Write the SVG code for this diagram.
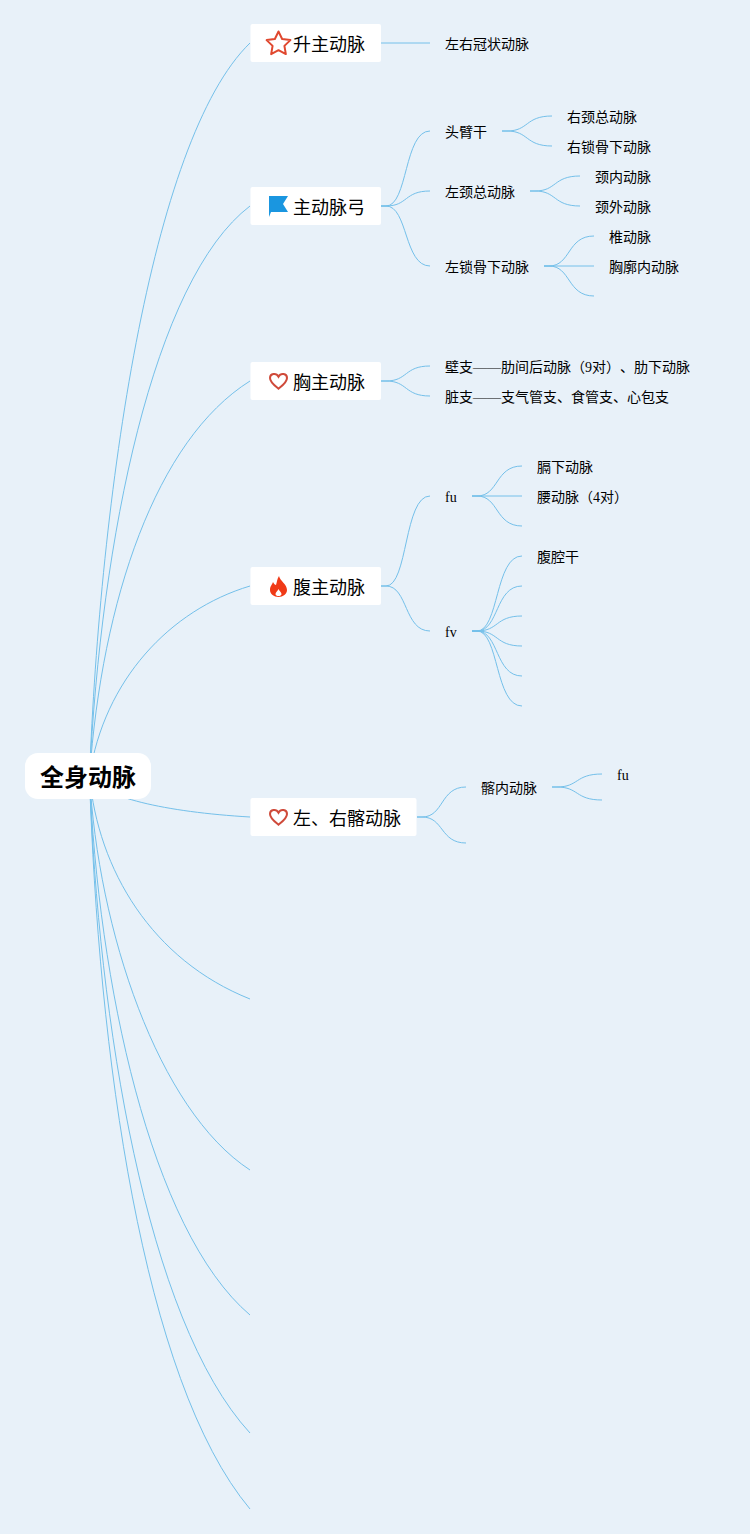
<svg xmlns="http://www.w3.org/2000/svg" width="750" height="1534" viewBox="0 0 750 1534">
<style>
.bg{fill:#e8f1f9}
.c{fill:none;stroke:#74c0ea;stroke-width:1}
.box{fill:#fff}
text{font-family:"Liberation Serif","Noto Sans CJK SC",serif;fill:#000;opacity:.999}
.t0{font-size:24px;font-weight:700;font-family:"Noto Sans CJK SC",sans-serif}
.t1{font-size:18px}
.t2{font-size:14px}
.dash{font-family:"Noto Sans CJK SC",sans-serif}
.heart{fill:none;stroke:#cf4a3a;stroke-width:2}
</style>
<defs>
<path id="h" class="heart" d="M0 7.600C-3 5.200-8.500 1.500-8.500-3C-8.500-7.500-2.300-8.500 0-4.300C2.300-8.500 8.500-7.500 8.500-3C8.500 1.500 3 5.200 0 7.600Z"/>
</defs>
<rect class="bg" width="750" height="1534"/>
<g id="connectors">
<path class="c" d="M89.500 776C100 500 150 140 250 43"/>
<path class="c" d="M89.500 776C101 540 153 280 250 206"/>
<path class="c" d="M89.500 776C102 600 156 440 250 381"/>
<path class="c" d="M89.500 776C104 680 170 610 250 586"/>
<path class="c" d="M89.500 776C100 797 165 812 250 817"/>
<path class="c" d="M89.500 776C98 870 152 960 250 999"/>
<path class="c" d="M89.500 776C98 930 158 1110 250 1170"/>
<path class="c" d="M89.500 776C98 980 150 1230 250 1315"/>
<path class="c" d="M89.500 776C98 1020 146 1320 250 1433"/>
<path class="c" d="M89.500 776C98 1050 142 1380 250 1509"/>
<path class="c" d="M381 43H430"/>
<path class="c" d="M381 206H386C408 206 404 131 430 131"/>
<path class="c" d="M381 206H386C408 206 404 191 430 191"/>
<path class="c" d="M381 206H386C408 206 404 266 430 266"/>
<path class="c" d="M502 131H507C529 131 525 116 552 116"/>
<path class="c" d="M502 131H507C529 131 525 146 552 146"/>
<path class="c" d="M530 191H535C557 191 553 176 580 176"/>
<path class="c" d="M530 191H535C557 191 553 206 580 206"/>
<path class="c" d="M544 266H549C571 266 567 236 594 236"/>
<path class="c" d="M544 266H594"/>
<path class="c" d="M544 266H549C571 266 567 296 594 296"/>
<path class="c" d="M381 381H386C408 381 404 366 430 366"/>
<path class="c" d="M381 381H386C408 381 404 396 430 396"/>
<path class="c" d="M381 586H386C408 586 404 496 430 496"/>
<path class="c" d="M381 586H386C408 586 404 631 430 631"/>
<path class="c" d="M472 496H477C499 496 495 466 522 466"/>
<path class="c" d="M472 496H522"/>
<path class="c" d="M472 496H477C499 496 495 526 522 526"/>
<path class="c" d="M472 631H477C499 631 495 556 522 556"/>
<path class="c" d="M472 631H477C499 631 495 586 522 586"/>
<path class="c" d="M472 631H477C499 631 495 616 522 616"/>
<path class="c" d="M472 631H477C499 631 495 646 522 646"/>
<path class="c" d="M472 631H477C499 631 495 676 522 676"/>
<path class="c" d="M472 631H477C499 631 495 706 522 706"/>
<path class="c" d="M417 817H422C444 817 440 787 466 787"/>
<path class="c" d="M417 817H422C444 817 440 843 466 843"/>
<path class="c" d="M552 787H557C579 787 575 774 602 774"/>
<path class="c" d="M552 787H557C579 787 575 800 602 800"/>
</g>
<g id="root"><rect class="box" x="25" y="753" width="126" height="46" rx="13"/><text class="t0" x="40" y="786">全身动脉</text></g>
<g id="n1"><rect class="box" x="250.500" y="24" width="130.500" height="38" rx="2"/><path d="M278.500 31.500L282.140 39L290.400 40.100L284.400 45.900L285.850 54.100L278.500 50.200L271.150 54.100L272.600 45.900L266.600 40.100L274.860 39Z" fill="none" stroke="#e0482f" stroke-width="2" stroke-linejoin="round"/><text class="t1" x="293" y="51">升主动脉</text></g>
<g id="n2"><rect class="box" x="250.500" y="187" width="130.500" height="38" rx="2"/><path d="M269 196H288L283 204L288 212H271L269 217Z" fill="#1a96e0"/><text class="t1" x="293" y="214">主动脉弓</text></g>
<g id="n3"><rect class="box" x="250.500" y="362" width="130.500" height="38" rx="2"/><use href="#h" x="278.500" y="381"/><text class="t1" x="293" y="389">胸主动脉</text></g>
<g id="n4"><rect class="box" x="250.500" y="567" width="130.500" height="38" rx="2"/><path d="M279 576C280 581 287 584 287 590C287 594 283 597 278.500 597C274 597 270 594 270 590C270 586 272 585 273 582C274 584 275 585 276 585C277 582 277 579 279 576ZM278.500 589C278 591 275.500 592 275.500 594C275.500 595.500 277 596 278.500 596C280 596 281.500 595.500 281.500 594C281.500 592 279 591 278.500 589Z" fill="#f03a17" fill-rule="evenodd"/><text class="t1" x="293" y="594">腹主动脉</text></g>
<g id="n5"><rect class="box" x="250.500" y="798" width="166" height="38" rx="2"/><use href="#h" x="278.500" y="817"/><text class="t1" x="293" y="825">左、右髂动脉</text></g>
<g id="labels">
<text class="t2" x="445" y="49">左右冠状动脉</text>
<text class="t2" x="445" y="137">头臂干</text>
<text class="t2" x="445" y="197">左颈总动脉</text>
<text class="t2" x="445" y="272">左锁骨下动脉</text>
<text class="t2" x="567" y="122">右颈总动脉</text>
<text class="t2" x="567" y="152">右锁骨下动脉</text>
<text class="t2" x="595" y="182">颈内动脉</text>
<text class="t2" x="595" y="212">颈外动脉</text>
<text class="t2" x="609" y="242">椎动脉</text>
<text class="t2" x="609" y="272">胸廓内动脉</text>
<text class="t2" x="445" y="372">壁支<tspan x="473" textLength="28" lengthAdjust="spacingAndGlyphs">——</tspan><tspan x="501">肋间后动脉（9对）</tspan><tspan x="620">、肋下动脉</tspan></text>
<text class="t2" x="445" y="402">脏支<tspan x="473" textLength="28" lengthAdjust="spacingAndGlyphs">——</tspan><tspan x="501">支气管支、食管支、心包支</tspan></text>
<text class="t2" x="445" y="502">fu</text>
<text class="t2" x="445" y="637">fv</text>
<text class="t2" x="537" y="472">膈下动脉</text>
<text class="t2" x="537" y="502">腰动脉（4对）</text>
<text class="t2" x="537" y="562">腹腔干</text>
<text class="t2" x="481" y="793">髂内动脉</text>
<text class="t2" x="617" y="780">fu</text>
</g>
</svg>
